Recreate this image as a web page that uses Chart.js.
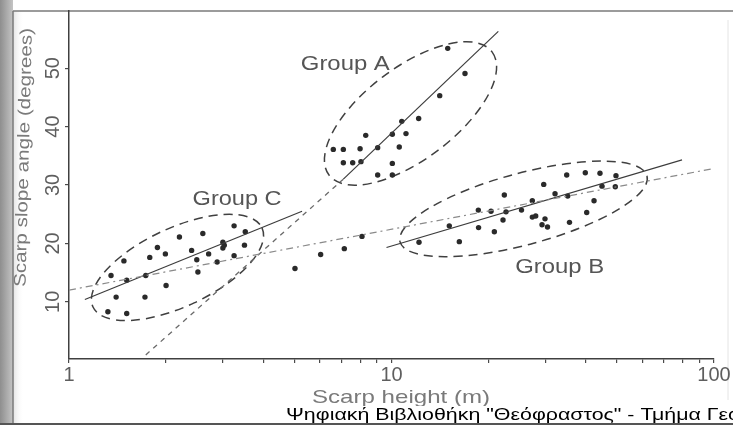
<!DOCTYPE html>
<html><head><meta charset="utf-8">
<script src="https://cdn.jsdelivr.net/npm/chart.js@4"></script>
<style>html,body{margin:0;padding:0;background:#fff}canvas{display:block}</style>
</head><body>
<canvas id="c" width="733" height="425"></canvas>
<script>
// ---- data (scarp height in m, slope angle in degrees) ----
const groupAX = [14.94,16.90,14.11,12.14,10.76,10.06,11.09,8.32,6.60,7.09,7.99,9.06,10.57,7.09,7.58,8.04,10.06,9.06,10.06];
const groupAY = [53.4,49.1,45.3,41.4,40.9,38.7,38.8,38.5,36.1,36.1,36.2,36.4,36.5,33.8,33.8,34.0,33.7,31.7,31.7];

const groupBX = [12.17,16.23,15.11,18.62,20.84,22.17,18.59,20.35,22.65,25.30,27.33,27.33,28.00,29.92,29.29,30.46,22.38,29.65,32.14,34.94,35.64,35.19,40.30,42.46,39.90,44.31,49.67,44.95,49.43];
const groupBY = [20.2,20.3,23.0,22.7,22.0,24.0,25.7,25.5,25.4,25.7,27.3,24.5,24.7,24.2,23.2,22.8,28.3,30.1,28.5,31.7,23.6,28.1,25.3,27.3,32.1,32.0,31.6,29.8,29.7];

const groupCX = [1.32,1.51,1.40,1.72,1.35,1.51,1.73,2.00,1.48,1.78,1.88,1.99,2.20,2.60,2.40,2.49,2.51,2.71,2.88,3.00,3.00,3.03,3.25,3.25,3.50,3.52];
const groupCY = [8.3,8.0,10.8,10.8,14.5,13.7,14.5,12.8,17.0,17.6,19.3,18.2,21.1,21.7,18.8,17.2,15.1,18.2,16.8,20.2,19.2,19.7,23.0,17.9,19.7,22.0];

const otherX = [5.02,6.03,7.14,8.10];
const otherY = [15.7,18.1,19.1,21.2];

// regression lines (end points)
const fitAX = [7.09,21.44],  fitAY = [31.0,56.3];
const extAX = [1.73,7.09],   extAY = [0.9,31.0];
const fitBX = [9.65,79.6],   fitBY = [19.3,34.3];
const fitCX = [1.12,5.28],   fitCY = [10.4,25.5];
const fitAllX = [1.0,99.3],  fitAllY = [12.0,32.8];

// group envelopes: major-axis end points + minor/major ratio
const ellipseNames = ['A','B','C'];
const ellipseX1 = [6.40,10.63,1.187], ellipseY1 = [31.7,20.25,9.11];
const ellipseX2 = [20.50,61.97,3.967], ellipseY2 = [52.8,31.56,22.65];
const ellipseRatio = [0.45,0.28,0.42];

// group labels
const groupLabels = ['Group A','Group B','Group C'];
const groupLabelX = [7.19,33.23,3.32];
const groupLabelY = [50.6,15.9,27.6];

// axes
const xTickValues = [1,2,3,4,5,6,7,8,9,10,20,30,40,50,60,70,80,90,100];
const xLabelValues = [1,10,100];
const yTickValues = [10,20,30,40,50];
const xTitle = 'Scarp height (m)';
const yTitle = 'Scarp slope angle (degrees)';
const watermark = 'Ψηφιακή Βιβλιοθήκη "Θεόφραστος" - Τμήμα Γεωλογίας. Α.Π.Θ.';

const pts = (xs, ys) => xs.map((x, i) => ({x: x, y: ys[i]}));
const dotStyle = {pointRadius: 2.7, pointBackgroundColor: '#2a2a2a', pointBorderWidth: 0, showLine: false};
const lineStyle = {pointRadius: 0, showLine: true, fill: false, tension: 0};
const FONT = '"Liberation Sans", Arial, sans-serif';

function drawText(ctx, text, x, y, o) {
  ctx.save();
  ctx.font = o.font; ctx.fillStyle = o.color;
  ctx.textAlign = o.align || 'center'; ctx.textBaseline = o.baseline || 'middle';
  ctx.translate(x, y); ctx.rotate(o.rot || 0);
  if (o.width) { const w = ctx.measureText(o.measure || text).width; ctx.scale(o.width / w, 1); }
  ctx.fillText(text, 0, 0);
  ctx.restore();
}

const decor = {
  id: 'decor',
  beforeDraw(chart) {
    const ctx = chart.ctx, W = chart.width, H = chart.height;
    ctx.save();
    ctx.fillStyle = '#fff'; ctx.fillRect(0, 0, W, H);
    let g = ctx.createLinearGradient(0, 0, 13, 0);
    g.addColorStop(0, '#8e8e8e'); g.addColorStop(1, '#c4c4c4');
    ctx.fillStyle = g; ctx.fillRect(0, 0, 13, H);
    g = ctx.createLinearGradient(13, 0, 24, 0);
    g.addColorStop(0, '#e2e2e2'); g.addColorStop(1, 'rgba(255,255,255,0)');
    ctx.fillStyle = g; ctx.fillRect(13, 11, 11, H - 11);
    ctx.strokeStyle = '#7a7a7a'; ctx.lineWidth = 1.5;
    ctx.beginPath(); ctx.moveTo(13, 11); ctx.lineTo(W, 11); ctx.stroke();
    ctx.beginPath(); ctx.moveTo(13, 11); ctx.lineTo(13, H); ctx.stroke();
    ctx.strokeStyle = '#e4e4e4'; ctx.lineWidth = 1;
    ctx.beginPath(); ctx.moveTo(728, 20); ctx.lineTo(728, 400); ctx.stroke();
    ctx.restore();
  },
  beforeDatasetsDraw(chart) {
    const ctx = chart.ctx, xs = chart.scales.x, ys = chart.scales.y;
    ctx.save();
    ctx.strokeStyle = '#404040'; ctx.lineWidth = 1.5; ctx.setLineDash([9, 6]);
    ellipseNames.forEach((n, i) => {
      const x1 = xs.getPixelForValue(ellipseX1[i]), y1 = ys.getPixelForValue(ellipseY1[i]);
      const x2 = xs.getPixelForValue(ellipseX2[i]), y2 = ys.getPixelForValue(ellipseY2[i]);
      const a = Math.hypot(x2 - x1, y2 - y1) / 2;
      ctx.beginPath();
      ctx.ellipse((x1 + x2) / 2, (y1 + y2) / 2, a, a * ellipseRatio[i], Math.atan2(y2 - y1, x2 - x1), 0, Math.PI * 2);
      ctx.stroke();
    });
    ctx.restore();
  },
  afterDraw(chart) {
    const ctx = chart.ctx, xs = chart.scales.x, ys = chart.scales.y;
    const tickFont = '20px ' + FONT;
    xLabelValues.forEach(v => drawText(ctx, String(v), xs.getPixelForValue(v), 375, {font: tickFont, color: '#5e5e5e'}));
    yTickValues.forEach(v => drawText(ctx, String(v), 53, ys.getPixelForValue(v), {font: tickFont, color: '#5e5e5e', rot: -Math.PI / 2}));
    drawText(ctx, xTitle, 401, 398, {font: '19px ' + FONT, color: '#7a7a7a', width: 178});
    drawText(ctx, yTitle, 24, 157.5, {font: '17px ' + FONT, color: '#7a7a7a', rot: -Math.PI / 2 + 0.025, width: 259});
    groupLabels.forEach((t, i) => drawText(ctx, t, xs.getPixelForValue(groupLabelX[i]), ys.getPixelForValue(groupLabelY[i]),
      {font: '20px ' + FONT, color: '#555', width: 89}));
    // watermark strip
    ctx.save();
    ctx.fillStyle = '#fff'; ctx.fillRect(282, 406, chart.width - 282, 17);
    ctx.font = '17px ' + FONT;
    const sx = 234 / ctx.measureText('Ψηφιακή Βιβλιοθήκη "Θε').width;
    ctx.translate(286, 419.5); ctx.scale(sx, 1);
    ctx.fillStyle = '#000'; ctx.textAlign = 'left'; ctx.textBaseline = 'alphabetic';
    ctx.fillText(watermark, 0, 0);
    ctx.restore();
    ctx.save();
    ctx.strokeStyle = '#555'; ctx.lineWidth = 2;
    ctx.beginPath(); ctx.moveTo(0, 424); ctx.lineTo(chart.width, 424); ctx.stroke();
    ctx.restore();
  }
};

const axisGrid = {drawOnChartArea: false, drawTicks: true, tickLength: 4, color: '#4a4a4a', lineWidth: 1.2};
const axisBorder = {display: true, color: '#404040', width: 1.5};

new Chart(document.getElementById('c'), {
  type: 'scatter',
  data: {datasets: [
    Object.assign({label: 'overall', data: pts(fitAllX, fitAllY), borderColor: '#8a8a8a', borderWidth: 1.2, borderDash: [7, 4, 2, 4]}, lineStyle),
    Object.assign({label: 'A extension', data: pts(extAX, extAY), borderColor: '#6a6a6a', borderWidth: 1.3, borderDash: [5, 5]}, lineStyle),
    Object.assign({label: 'fit A', data: pts(fitAX, fitAY), borderColor: '#3c3c3c', borderWidth: 1.2}, lineStyle),
    Object.assign({label: 'fit B', data: pts(fitBX, fitBY), borderColor: '#3c3c3c', borderWidth: 1.2}, lineStyle),
    Object.assign({label: 'fit C', data: pts(fitCX, fitCY), borderColor: '#3c3c3c', borderWidth: 1.2}, lineStyle),
    Object.assign({label: 'Group A', data: pts(groupAX, groupAY)}, dotStyle),
    Object.assign({label: 'Group B', data: pts(groupBX, groupBY)}, dotStyle),
    Object.assign({label: 'Group C', data: pts(groupCX, groupCY)}, dotStyle),
    Object.assign({label: 'other', data: pts(otherX, otherY)}, dotStyle)
  ]},
  options: {
    responsive: false, animation: false, devicePixelRatio: 1,
    layout: {padding: {top: 11, right: 19, left: 0, bottom: 0}},
    plugins: {legend: {display: false}, tooltip: {enabled: false}},
    scales: {
      x: {type: 'logarithmic', min: 1, max: 100,
          afterBuildTicks: s => { s.ticks = xTickValues.map(v => ({value: v})); },
          afterFit: s => { s.height = 66; },
          ticks: {display: false}, grid: axisGrid, border: axisBorder},
      y: {type: 'linear', min: 0.2, max: 59.8,
          afterBuildTicks: s => { s.ticks = yTickValues.map(v => ({value: v})); },
          afterFit: s => { s.width = 69; },
          ticks: {display: false}, grid: axisGrid, border: axisBorder}
    }
  },
  plugins: [decor]
});
</script>
</body></html>
